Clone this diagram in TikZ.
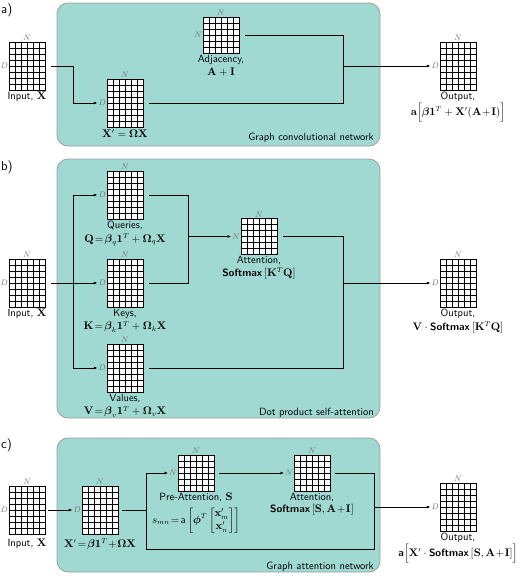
\documentclass[tikz,border=0pt]{standalone}
\usepackage{amsmath,amssymb}
\usepackage{tikz}
\usetikzlibrary{arrows.meta, positioning, calc}
\definecolor{gteal}{HTML}{A0D8D2}
\definecolor{gedge}{HTML}{9E9E9E}
\definecolor{gdim}{HTML}{6E6E6E}
\newcommand{\softmaxop}{\textsf{\textbf{Softmax}}}
\newcommand{\cellgrid}[1]{%
  \foreach \k in {6,12,...,30}
    \draw[line width=0.9pt] ([xshift=\k pt]path picture bounding box.south west) -- ([xshift=\k pt]path picture bounding box.north west);
  \foreach \k in {6,12,...,#1}
    \draw[line width=0.9pt] ([yshift=\k pt]path picture bounding box.south west) -- ([yshift=\k pt]path picture bounding box.south east);
}
\tikzset{
  >={Latex[length=3.5pt,width=3pt]},
  font=\sffamily,
  panel/.style={fill=gteal, draw=gedge, line width=0.8pt, rounded corners=11pt},
  matbox/.style={
    draw, fill=white, line width=0.9pt, inner sep=0pt, outer sep=0pt,
    minimum width=36pt
  },
  dmat/.style={matbox, minimum height=48pt, path picture={\cellgrid{42}}},
  nmat/.style={matbox, minimum height=36pt, path picture={\cellgrid{30}}},
  dimlab/.style={font=\fontsize{8}{9}\selectfont, text=gdim, inner sep=1pt},
  caption/.style={font=\sffamily\fontsize{10.5}{13.5}\selectfont, align=center, inner sep=1pt},
  note/.style={font=\sffamily\fontsize{10.5}{12}\selectfont, anchor=base east, inner sep=0pt},
  tag/.style={font=\sffamily\fontsize{13}{15}\selectfont, anchor=west, inner sep=0pt},
  wire/.style={line width=0.8pt}
}

\begin{document}
\begin{tikzpicture}[x=1pt,y=-1pt]
  \useasboundingbox (0,0) rectangle (529,576);

  % a) graph convolutional network
  \draw[panel] (57,3) rectangle (380,146);
  \node[tag] (tagA) at (1,10) {a)};
  \node[dmat, label={[dimlab]above:$N$}, label={[dimlab]left:$D$}] (inA) at (27,66) {};
  \node[caption, below=1pt of inA] (inAlab) {Input, $\mathbf{X}$};
  \node[dmat, label={[dimlab]above:$N$}, label={[dimlab,name=xpAD]left:$D$}] (xpA) at (125,103) {};
  \node[caption, below=1pt of xpA] (xpAlab) {$\mathbf{X}'=\boldsymbol{\Omega}\mathbf{X}$};
  \node[nmat, label={[dimlab]above:$N$}, label={[dimlab]left:$N$}] (adjA) at (221,35) {};
  \node[caption, below=1pt of adjA] (adjAlab) {Adjacency,\\$\mathbf{A}+\mathbf{I}$};
  \node[dmat, label={[dimlab]above:$N$}, label={[dimlab,name=outAD]left:$D$}] (outA) at (458,66) {};
  \node[caption, below=1pt of outA] (outAlab) {Output,\\$\mathbf{a}\Bigl[\boldsymbol{\beta}\mathbf{1}^T+\mathbf{X}'(\mathbf{A}\!+\!\mathbf{I})\Bigr]$};
  \node[note] (noteA) at (374,140) {Graph convolutional network};
  \coordinate (mA) at (343,66);
  \draw[wire,->,shorten <=6pt] (inA.east) -- ++(28,0) |- (xpAD.west);
  \draw[wire,shorten <=6pt] (adjA.east) -| (mA);
  \draw[wire,shorten <=6pt] (xpA.east) -| (mA);
  \draw[wire,->] (mA) -- (outAD.west);

  % b) dot product self-attention
  \draw[panel] (57,159) rectangle (380,418);
  \node[tag] (tagB) at (1,167) {b)};
  \node[dmat, label={[dimlab]above:$N$}, label={[dimlab]left:$D$}] (inB) at (27,283) {};
  \node[caption, below=1pt of inB] (inBlab) {Input, $\mathbf{X}$};
  \node[dmat, label={[dimlab]above:$N$}, label={[dimlab,name=qBD]left:$D$}] (qB) at (125,195) {};
  \node[caption, below=1pt of qB] (qBlab) {Queries,\\$\mathbf{Q}\!=\!\boldsymbol{\beta}_q\mathbf{1}^T+\boldsymbol{\Omega}_q\mathbf{X}$};
  \node[dmat, label={[dimlab]above:$N$}, label={[dimlab,name=kBD]left:$D$}] (kB) at (125,283) {};
  \node[caption, below=1pt of kB] (kBlab) {Keys,\\$\mathbf{K}\!=\!\boldsymbol{\beta}_k\mathbf{1}^T+\boldsymbol{\Omega}_k\mathbf{X}$};
  \node[dmat, label={[dimlab]above:$N$}, label={[dimlab,name=vBD]left:$D$}] (vB) at (125,368) {};
  \node[caption, below=1pt of vB] (vBlab) {Values,\\$\mathbf{V}\!=\!\boldsymbol{\beta}_v\mathbf{1}^T+\boldsymbol{\Omega}_v\mathbf{X}$};
  \node[nmat, label={[dimlab]above:$N$}, label={[dimlab,name=attBN]left:$N$}] (attB) at (259,236.5) {};
  \node[caption, below=1pt of attB] (attBlab) {Attention,};
  \node[caption, below=0pt of attBlab] (attBeq) {$\softmaxop\left[\mathbf{K}^T\mathbf{Q}\right]$};
  \node[dmat, label={[dimlab]above:$N$}, label={[dimlab,name=outBD]left:$D$}] (outB) at (458,283) {};
  \node[caption, below=1pt of outB] (outBlab) {Output,\\$\mathbf{V}\cdot\softmaxop\left[\mathbf{K}^T\mathbf{Q}\right]$};
  \node[note] (noteB) at (374,415) {Dot product self-attention};
  \coordinate (sB) at (73,283);
  \coordinate (jB) at (188,236.5);
  \coordinate (mB) at (343,283);
  \draw[wire,->,shorten <=6pt] (inB.east) -- (kBD.west);
  \draw[wire,->] (sB) |- (qBD.west);
  \draw[wire,->] (sB) |- (vBD.west);
  \draw[wire,shorten <=6pt] (qB.east) -| (jB);
  \draw[wire,shorten <=6pt] (kB.east) -| (jB);
  \draw[wire,->] (jB) -- (attBN.west);
  \draw[wire,shorten <=6pt] (attB.east) -| (mB);
  \draw[wire,shorten <=6pt] (vB.east) -| (mB);
  \draw[wire,->] (mB) -- (outBD.west);

  % c) graph attention network
  \draw[panel] (57,438) rectangle (380,572);
  \node[tag] (tagC) at (1,445) {c)};
  \node[dmat, label={[dimlab]above:$N$}, label={[dimlab]left:$D$}] (inC) at (27,510) {};
  \node[caption, below=4pt of inC] (inClab) {Input, $\mathbf{X}$};
  \node[dmat, label={[dimlab]above:$N$}, label={[dimlab,name=xpCD]left:$D$}] (xpC) at (100,510) {};
  \node[caption, below=4pt of xpC] (xpClab) {$\mathbf{X}'\!=\!\boldsymbol{\beta}\mathbf{1}^T\!+\!\boldsymbol{\Omega}\mathbf{X}$};
  \node[nmat, label={[dimlab]above:$N$}, label={[dimlab,name=preCN]left:$N$}] (preC) at (196,473) {};
  \node[caption, below=1pt of preC] (preClab) {Pre-Attention, $\mathbf{S}$};
  \node[caption, below=2.5pt of preClab] (preCeq) {$s_{mn}\!=\!\textsf{a}\left[\boldsymbol{\phi}^T\begin{bmatrix}\mathbf{x}'_m\\\mathbf{x}'_n\end{bmatrix}\right]$};
  \node[nmat, label={[dimlab]above:$N$}, label={[dimlab,name=attCN]left:$N$}] (attC) at (312,473) {};
  \node[caption, below=1pt of attC] (attClab) {Attention,};
  \node[caption, below=0pt of attClab] (attCeq) {$\softmaxop\left[\mathbf{S},\mathbf{A}\!+\!\mathbf{I}\right]$};
  \node[dmat, label={[dimlab]above:$N$}, label={[dimlab,name=outCD]left:$D$}] (outC) at (458,507) {};
  \node[caption, below=1pt of outC] (outClab) {Output,\\$\textsf{\textbf{a}}\Bigl[\mathbf{X}'\cdot\softmaxop\left[\mathbf{S},\mathbf{A}\!+\!\mathbf{I}\right]\Bigr]$};
  \node[note] (noteC) at (374,569) {Graph attention network};
  \coordinate (sC) at (146,510);
  \coordinate (bC) at (374,549);
  \coordinate (mC) at (374,507);
  \draw[wire,->,shorten <=3pt] (inC.east) -- (xpCD.west);
  \draw[wire,shorten <=4pt] (xpC.east) -- (sC);
  \draw[wire,->] (sC) |- (preCN.west);
  \draw[wire,->,shorten <=5pt] (preC.east) -- (attCN.west);
  \draw[wire,shorten <=5pt] (attC.east) -| (mC);
  \draw[wire] (sC) |- (bC) -- (mC);
  \draw[wire,->] (mC) -- (outCD.west);
\end{tikzpicture}
\end{document}
